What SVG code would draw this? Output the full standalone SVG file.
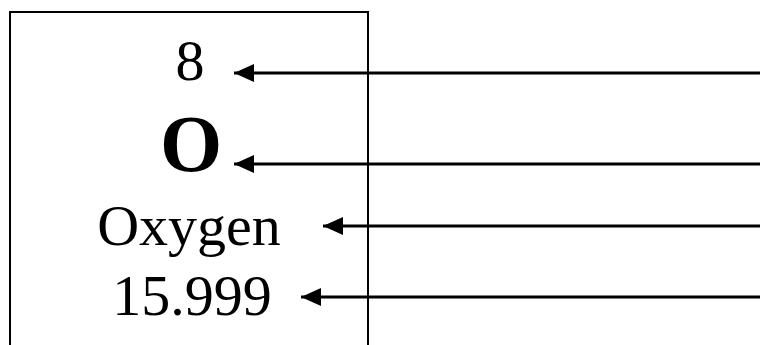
<svg xmlns="http://www.w3.org/2000/svg" width="760" height="345" viewBox="0 0 760 345">
  <style>
    .label { font-family: "Liberation Serif", "Times New Roman", serif; fill: #000; text-anchor: middle; }
    .small { font-size: 58px; }
    .symbol { font-size: 80px; font-weight: bold; }
    .pointer { stroke: #000; stroke-width: 3; fill: none; marker-end: url(#head); }
  </style>
  <defs>
    <marker id="head" viewBox="0 0 20 18" refX="20" refY="9" markerWidth="20" markerHeight="18" markerUnits="userSpaceOnUse" orient="auto">
      <path d="M0,0 L20,9 L0,18 Z" fill="#000"/>
    </marker>
  </defs>
  <rect width="760" height="345" fill="#fff"/>

  <!-- element tile -->
  <g id="element-tile">
    <rect x="10" y="12" width="358" height="360" fill="none" stroke="#000" stroke-width="2"/>
    <g id="atomic-number"><text class="label small" x="190" y="80">8</text></g>
    <g id="symbol"><text class="label symbol" x="191" y="171">O</text></g>
    <g id="name"><text class="label small" x="189" y="245">Oxygen</text></g>
    <g id="atomic-mass"><text class="label small" x="192" y="315">15.999</text></g>
  </g>

  <!-- pointers coming in from the right -->
  <g id="connectors">
    <line class="pointer" x1="760" y1="73" x2="234" y2="73"/>
    <line class="pointer" x1="760" y1="164" x2="234" y2="164"/>
    <line class="pointer" x1="760" y1="226" x2="323" y2="226"/>
    <line class="pointer" x1="760" y1="297" x2="301" y2="297"/>
  </g>
</svg>
